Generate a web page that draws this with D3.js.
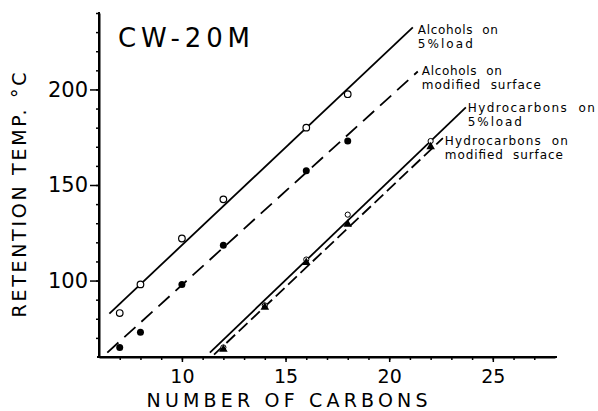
<!DOCTYPE html>
<html>
<head>
<meta charset="utf-8">
<script src="https://cdn.jsdelivr.net/npm/d3@7"></script>
<style>
  html, body { margin: 0; padding: 0; background: #fff; }
  svg { display: block; }
  text { font-family: "DejaVu Sans", sans-serif; fill: #000; }
</style>
</head>
<body>
<svg id="chart" width="598" height="411"></svg>
<script>
// ---- data ----
const carbonsAlc = [7, 8, 10, 12, 16, 18];
const alcohols5 = [83, 98, 122, 142.5, 180, 197.5];
const alcoholsMod = [65, 73, 98, 118.5, 157.5, 173];

const carbonsHyd = [12, 14, 16, 18, 22];
const hydro5 = [65, 87, 111, 134.5, 173];
const hydroMod = [64, 86, 109.5, 129.5, 170];

// hand-drawn fit lines: [start, end] as [carbons, temp]
const fitAlc5 = [[6.5, 82.7], [21.14, 232.5]];
const fitAlcMod = [[6.4, 62.3], [21.38, 209.4]];
const fitHyd5 = [[11.35, 62.3], [23.7, 190.6]];
const fitHydMod = [[11.55, 61.2], [22.59, 174.5]];

const xMajorTicks = [10, 15, 20, 25];
const xMinorTicks = d3.range(7, 28);
const yMajorTicks = [100, 150, 200];
const yMinorTicks = d3.range(70, 241, 10);

const title = "CW-20M";
const xTitle = "NUMBER OF CARBONS";
const yTitle = "RETENTION TEMP. \u00B0C";

const lineLabels = [
  { lines: ["Alcohols  on", "5%load"], widths: [80, 55] },
  { lines: ["Alcohols  on", "modified  surface"], widths: [80, 119] },
  { lines: ["Hydrocarbons  on", "5%load"], widths: [127, 54] },
  { lines: ["Hydrocarbons  on", "modified  surface"], widths: [123, 118] }
];

// ---- drawing ----
const svg = d3.select("#chart");
const x = d3.scaleLinear().domain([6, 28]).range([99, 555]);
const y = d3.scaleLinear().domain([60, 240]).range([357, 13]);

// axes
const xAxisMinor = d3.axisBottom(x).tickValues(xMinorTicks).tickSize(3).tickFormat("").tickSizeOuter(0);
const xAxisMajor = d3.axisBottom(x).tickValues(xMajorTicks).tickSize(5).tickPadding(8).tickSizeOuter(0);
const yAxisMinor = d3.axisLeft(y).tickValues(yMinorTicks).tickSize(3).tickFormat("").tickSizeOuter(0);
const yAxisMajor = d3.axisLeft(y).tickValues(yMajorTicks).tickSize(9).tickPadding(2).tickSizeOuter(0);

function styleAxis(g, fs) {
  g.select(".domain").attr("stroke", "#000").attr("stroke-width", 2);
  g.selectAll(".tick line").attr("stroke", "#000").attr("stroke-width", 1.5);
  g.selectAll("text").attr("font-size", fs).attr("font-family", "DejaVu Sans, sans-serif").attr("fill", "#000");
}

svg.append("g").attr("transform", `translate(0,${y(60)})`).call(xAxisMinor).call(styleAxis, 19);
svg.append("g").attr("transform", `translate(0,${y(60)})`).call(xAxisMajor).call(styleAxis, 19)
  .select(".domain").attr("d", `M${x(6) - 2},0H${x(28) + 2}`);
svg.append("g").attr("transform", `translate(${x(6)},0)`).call(yAxisMinor).call(styleAxis, 21);
svg.append("g").attr("transform", `translate(${x(6)},0)`).call(yAxisMajor).call(styleAxis, 21)
  .select(".domain").attr("d", `M0,${y(240) - 1}V${y(60) + 1}`);

// axis titles
svg.append("text")
  .attr("x", 287).attr("y", 407)
  .attr("text-anchor", "middle")
  .attr("font-size", 19)
  .attr("textLength", 281).attr("lengthAdjust", "spacing")
  .text(xTitle);

svg.append("text")
  .attr("transform", "translate(26,195) rotate(-90)")
  .attr("text-anchor", "middle")
  .attr("font-size", 19)
  .attr("textLength", 245).attr("lengthAdjust", "spacing")
  .text(yTitle);

// chart title
svg.append("text")
  .attr("x", 118).attr("y", 47)
  .attr("font-size", 26)
  .attr("textLength", 132).attr("lengthAdjust", "spacing")
  .text(title);

// fit lines
const line = d3.line().x(d => x(d[0])).y(d => y(d[1]));
const fits = [
  { pts: fitAlc5, dash: null },
  { pts: fitAlcMod, dash: "15,8" },
  { pts: fitHyd5, dash: null },
  { pts: fitHydMod, dash: "12,5" }
];
svg.append("g").selectAll("path").data(fits).join("path")
  .attr("d", d => line(d.pts))
  .attr("fill", "none")
  .attr("stroke", "#000")
  .attr("stroke-width", 1.8)
  .attr("stroke-dasharray", d => d.dash);

// labels at line ends
const labelOffsets = [[5, 7], [4, 4], [2, 5], [2, 7]];
fits.forEach((f, i) => {
  const end = f.pts[1];
  const lx = x(end[0]) + labelOffsets[i][0];
  const ly = y(end[1]) + labelOffsets[i][1];
  const lab = lineLabels[i];
  lab.lines.forEach((t, j) => {
    svg.append("text")
      .attr("x", lx).attr("y", ly + j * 14)
      .attr("font-size", 12)
      .attr("textLength", lab.widths[j]).attr("lengthAdjust", "spacing")
      .style("white-space", "pre")
      .text(t);
  });
});

// markers
const gm = svg.append("g");
gm.selectAll("circle.a5").data(carbonsAlc.map((c, i) => [c, alcohols5[i]])).join("circle")
  .attr("class", "a5").attr("cx", d => x(d[0])).attr("cy", d => y(d[1])).attr("r", 3.3)
  .attr("fill", "#fff").attr("stroke", "#000").attr("stroke-width", 1.2);
gm.selectAll("circle.am").data(carbonsAlc.map((c, i) => [c, alcoholsMod[i]])).join("circle")
  .attr("class", "am").attr("cx", d => x(d[0])).attr("cy", d => y(d[1])).attr("r", 3.5)
  .attr("fill", "#000");
gm.selectAll("circle.h5").data(carbonsHyd.map((c, i) => [c, hydro5[i]])).join("circle")
  .attr("class", "h5").attr("cx", d => x(d[0])).attr("cy", d => y(d[1])).attr("r", 2.6)
  .attr("fill", "#fff").attr("stroke", "#000").attr("stroke-width", 1);
gm.selectAll("path.hm").data(carbonsHyd.map((c, i) => [c, hydroMod[i]])).join("path")
  .attr("class", "hm")
  .attr("transform", d => `translate(${x(d[0])},${y(d[1])})`)
  .attr("d", d3.symbol().type(d3.symbolTriangle).size(32))
  .attr("fill", "#000");
</script>
</body>
</html>
